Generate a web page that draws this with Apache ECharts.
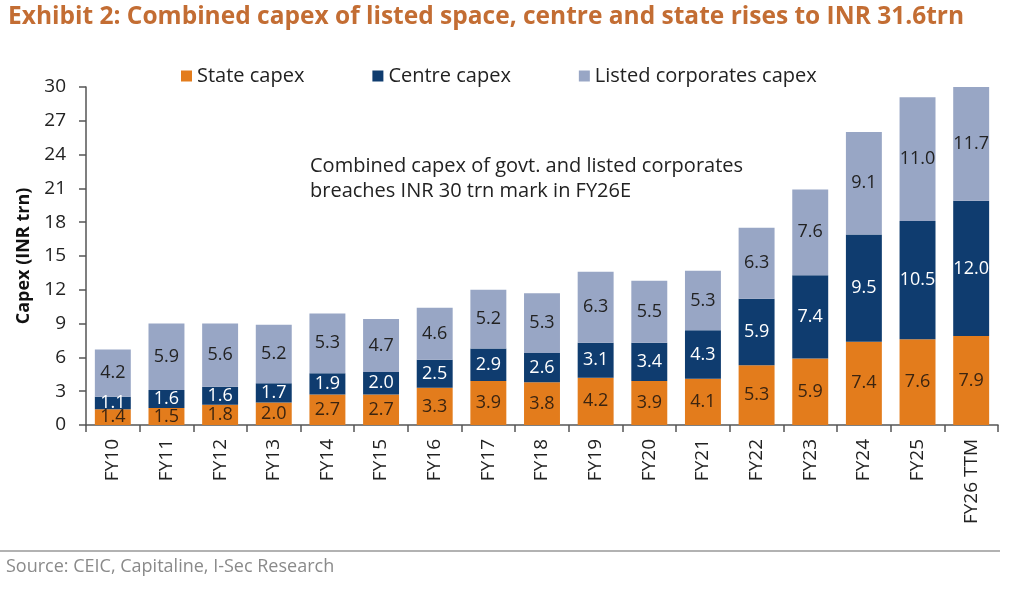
<!DOCTYPE html>
<html><head><meta charset="utf-8">
<script src="https://cdn.jsdelivr.net/npm/echarts@6/dist/echarts.min.js"></script>
<style>html,body{margin:0;padding:0;background:#fff}#c{width:1024px;height:592px}</style>
</head><body><div id="c"></div>
<script>
const categories = ['FY10','FY11','FY12','FY13','FY14','FY15','FY16','FY17','FY18','FY19','FY20','FY21','FY22','FY23','FY24','FY25','FY26 TTM'];
const stateCapex = [1.4,1.5,1.8,2.0,2.7,2.7,3.3,3.9,3.8,4.2,3.9,4.1,5.3,5.9,7.4,7.6,7.9];
const centreCapex = [1.1,1.6,1.6,1.7,1.9,2.0,2.5,2.9,2.6,3.1,3.4,4.3,5.9,7.4,9.5,10.5,12.0];
const listedCapex = [4.2,5.9,5.6,5.2,5.3,4.7,4.6,5.2,5.3,6.3,5.5,5.3,6.3,7.6,9.1,11.0,11.7];
const yTicks = [0,3,6,9,12,15,18,21,24,27,30];

const FONT = 'Open Sans';
const chart = echarts.init(document.getElementById('c'));
const lbl = (color) => ({show:true, position:'inside', color, fontFamily:FONT, fontSize:18, formatter:p=>p.value.toFixed(1)});
chart.setOption({
  animation:false,
  textStyle:{fontFamily:FONT},
  legend:{
    top:61, left:176, itemGap:68, itemWidth:11, itemHeight:11, icon:'rect',
    textStyle:{fontFamily:FONT, fontSize:20, color:'#222', padding:[0,0,0,0]},
    data:['State capex','Centre capex','Listed corporates capex']
  },
  grid:{left:86, right:26, top:87, bottom:167},
  xAxis:{
    type:'category', data:categories,
    axisLine:{lineStyle:{color:'#555', width:1.5}},
    axisTick:{show:true, length:7, lineStyle:{color:'#555', width:1.5}},
    axisLabel:{rotate:90, fontFamily:FONT, fontSize:19, color:'#222', margin:14}
  },
  yAxis:{
    type:'value', min:yTicks[0], max:yTicks[yTicks.length-1], interval:3,
    name:'Capex (INR trn)', nameLocation:'middle', nameGap:46,
    nameTextStyle:{fontFamily:FONT, fontSize:18, fontWeight:'bold', color:'#111'},
    axisLine:{show:true, lineStyle:{color:'#555', width:1.5}},
    axisTick:{show:true, length:7, lineStyle:{color:'#555', width:1.5}},
    splitLine:{show:false},
    axisLabel:{fontFamily:FONT, fontSize:19, color:'#222', margin:20}
  },
  series:[
    {name:'State capex', type:'bar', stack:'t', data:stateCapex, barCategoryGap:'33%', itemStyle:{color:'#E37C1C'}, label:lbl('#3b2410')},
    {name:'Centre capex', type:'bar', stack:'t', data:centreCapex, itemStyle:{color:'#0F3C6F'}, label:lbl('#ffffff')},
    {name:'Listed corporates capex', type:'bar', stack:'t', data:listedCapex, itemStyle:{color:'#98A6C5'}, label:lbl('#222')}
  ],
  graphic:[
    {type:'text', left:8, top:5, style:{text:'Exhibit 2: Combined capex of listed space, centre and state rises to INR 31.6trn', fontFamily:FONT, fontSize:24.5, fontWeight:'bold', fill:'#C36D33'}},
    {type:'text', left:310, top:154, style:{text:'Combined capex of govt. and listed corporates\nbreaches INR 30 trn mark in FY26E', fontFamily:FONT, fontSize:20, lineHeight:25, fill:'#222'}},
    {type:'line', shape:{x1:0, y1:551, x2:1000, y2:551}, style:{stroke:'#999', lineWidth:1.5}},
    {type:'text', left:6, top:558, style:{text:'Source: CEIC, Capitaline, I-Sec Research', fontFamily:FONT, fontSize:18, fill:'#8a8a8a'}}
  ]
});
</script></body></html>
